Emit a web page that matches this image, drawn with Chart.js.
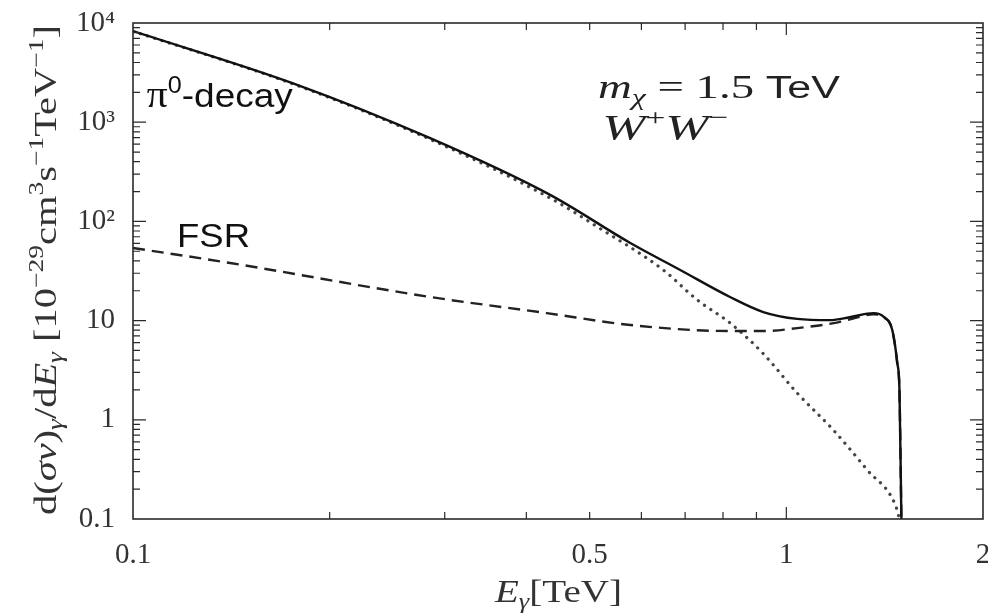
<!DOCTYPE html>
<html><head><meta charset="utf-8">
<script src="https://cdn.jsdelivr.net/npm/chart.js@4.4.1/dist/chart.umd.min.js"></script>
<style>html,body{margin:0;padding:0;background:#fff;}#wrap{width:988px;height:616px;}</style>
</head><body><div id="wrap"><canvas id="c" width="988" height="616"></canvas></div>
<script>
// ---- data ----
const totalE = [0.1, 0.1758, 0.285, 0.435, 0.577, 0.688, 0.82, 0.922, 1.039, 1.167, 1.25, 1.36, 1.41, 1.453, 1.479, 1.49, 1.5];
const totalY = [8300, 2466, 690, 185, 60.6, 32.4, 17.3, 12.2, 10.4, 10.1, 10.8, 11.9, 10.9, 8.0, 3.7, 2.0, 0.1];
const pi0E = [0.1, 0.1758, 0.285, 0.435, 0.514, 0.648, 0.731, 0.82, 0.92, 1.039, 1.18, 1.33, 1.469, 1.49];
const pi0Y = [8250, 2430, 672, 172, 88, 32.4, 16.1, 9.46, 4.71, 1.86, 0.79, 0.312, 0.138, 0.1];
const fsrE = [0.1, 0.1408, 0.285, 0.43, 0.577, 0.82, 0.92, 1.07, 1.2, 1.3, 1.36, 1.41, 1.453, 1.479, 1.49, 1.5];
const fsrY = [54, 38.1, 17.3, 11.9, 9.03, 7.85, 7.85, 8.6, 9.6, 11.0, 11.6, 10.8, 7.9, 3.6, 1.9, 0.1];
const xTickValues = [0.1, 0.5, 1, 2];
const xTickLabels = ['0.1', '0.5', '1', '2'];
const yTickValues = [0.1, 1, 10, 100, 1000, 10000];
const yTickLabels = ['0.1', '1', '10', '10²', '10³', '10⁴'];
const xMinorTicks = [0.2, 0.3, 0.4, 0.5, 0.6, 0.7, 0.8, 0.9];
const xMajorTicks = [1];
const annPi0 = {E: 0.105, v: 1422};
const annFsr = {E: 0.1168, v: 55};
const annMass = {E: 0.5148, v: 1754};
const annWW = {E: 0.5227, v: 661};

const pts = (xs, ys) => xs.map((x, i) => ({x: x, y: ys[i]}));
const SERIF = '"Liberation Serif", "Times New Roman", serif';
const SANS = '"Liberation Sans", Arial, sans-serif';

function fontFor(style, size) {
  if (style === 'i') return 'italic ' + size + 'px ' + SERIF;
  if (style === 's') return size + 'px ' + SANS;
  return size + 'px ' + SERIF;
}
function segSize(s, size) { return (s[2] ? size * 0.68 : size) * (s[3] || 1); }
function richWidth(ctx, segs, size) {
  let w = 0;
  for (const s of segs) {
    ctx.font = fontFor(s[1], segSize(s, size));
    w += ctx.measureText(s[0]).width;
  }
  return w;
}
function drawRich(ctx, segs, x, y, size, target) {
  const w = richWidth(ctx, segs, size);
  const sx = target ? target / w : 1;
  ctx.save();
  ctx.translate(x, y);
  ctx.scale(sx, 1);
  ctx.textBaseline = 'alphabetic';
  ctx.textAlign = 'left';
  let cx = 0;
  for (const s of segs) {
    const sz = segSize(s, size);
    ctx.font = fontFor(s[1], sz);
    let dy = 0;
    if (s[2] === 1) dy = -size * 0.42;
    if (s[2] === -1) dy = size * 0.2;
    ctx.fillText(s[0], cx, dy);
    cx += ctx.measureText(s[0]).width;
  }
  ctx.restore();
  return w * sx;
}

const framePlugin = {
  id: 'frame',
  afterDatasetsDraw(chart) {
    const ctx = chart.ctx;
    const xs = chart.scales.x, ys = chart.scales.y;
    const a = chart.chartArea;
    ctx.save();
    ctx.strokeStyle = '#2a2a2a';
    ctx.lineWidth = 1.6;
    ctx.strokeRect(a.left, a.top, a.right - a.left, a.bottom - a.top);
    ctx.lineWidth = 1.2;
    ctx.beginPath();
    for (let k = -1; k <= 3; k++) {
      for (let d = 1; d <= 9; d++) {
        if (d === 1 && k === -1) continue;
        const py = ys.getPixelForValue(d * Math.pow(10, k));
        const len = d === 1 ? 13 : 7;
        ctx.moveTo(a.left, py); ctx.lineTo(a.left + len, py);
        ctx.moveTo(a.right, py); ctx.lineTo(a.right - len, py);
      }
    }
    for (const v of xMinorTicks.concat(xMajorTicks)) {
      const px = xs.getPixelForValue(v);
      const len = xMajorTicks.includes(v) ? 12 : 7;
      ctx.moveTo(px, a.bottom); ctx.lineTo(px, a.bottom - len);
      ctx.moveTo(px, a.top); ctx.lineTo(px, a.top + len);
    }
    ctx.stroke();

    ctx.fillStyle = '#111';
    drawRich(ctx, [['π', 'r', 0, 1.12], ['0', 's', 1], ['-decay', 's', 0]], xs.getPixelForValue(annPi0.E), ys.getPixelForValue(annPi0.v), 34, 146);
    drawRich(ctx, [['FSR', 's', 0]], xs.getPixelForValue(annFsr.E), ys.getPixelForValue(annFsr.v), 34, 73);
    ctx.fillStyle = '#222';
    drawRich(ctx, [['m', 'i', 0], ['χ', 'i', -1], [' = 1.5 ', 'r', 0], ['TeV', 's', 0, 0.92]], xs.getPixelForValue(annMass.E), ys.getPixelForValue(annMass.v), 34, 242);
    drawRich(ctx, [['W', 'i', 0], ['+', 'r', 1], ['W', 'i', 0], ['−', 'r', 1]], xs.getPixelForValue(annWW.E), ys.getPixelForValue(annWW.v), 35, 126);

    ctx.fillStyle = '#333';
    drawRich(ctx, [['E', 'i', 0], ['γ', 'i', -1], ['[TeV]', 'r', 0]], 495, 602, 31, 127);

    const yt = [['d(', 'r', 0], ['σv', 'i', 0], [')', 'r', 0], ['γ', 'i', -1], ['/d', 'r', 0], ['E', 'i', 0], ['γ', 'i', -1],
      [' [10', 'r', 0], ['−29', 'r', 1], ['cm', 'r', 0], ['3', 'r', 1], ['s', 'r', 0], ['−1', 'r', 1], ['TeV', 'r', 0], ['−1', 'r', 1], [']', 'r', 0]];
    ctx.save();
    ctx.translate(56, 270);
    ctx.rotate(-Math.PI / 2);
    drawRich(ctx, yt, -245, 0, 31, 490);
    ctx.restore();
    ctx.restore();
  }
};

new Chart(document.getElementById('c'), {
  type: 'line',
  data: {
    datasets: [
      {label: 'total', data: pts(totalE, totalY), borderColor: '#111', borderWidth: 2.4, pointRadius: 0, cubicInterpolationMode: 'monotone', fill: false},
      {label: 'FSR', data: pts(fsrE, fsrY), borderColor: '#222', borderWidth: 2.4, borderDash: [12, 7], pointRadius: 0, cubicInterpolationMode: 'monotone', fill: false},
      {label: 'π0-decay', data: pts(pi0E, pi0Y), borderColor: '#444', borderWidth: 3.2, borderDash: [0.1, 7.5], borderCapStyle: 'round', pointRadius: 0, cubicInterpolationMode: 'monotone', fill: false}
    ]
  },
  options: {
    responsive: false,
    animation: false,
    devicePixelRatio: 1,
    layout: {padding: {top: 23, right: 5, left: 0, bottom: 0}},
    plugins: {legend: {display: false}, tooltip: {enabled: false}, title: {display: false}},
    scales: {
      x: {
        type: 'logarithmic', min: 0.1, max: 2, position: 'bottom',
        grid: {display: false, drawTicks: false}, border: {display: false},
        afterBuildTicks: s => { s.ticks = xTickValues.map(v => ({value: v})); },
        afterFit: s => { s.height = 97; s.paddingLeft = 0; s.paddingRight = 0; },
        ticks: {
          autoSkip: false, maxRotation: 0, padding: 19, color: '#333',
          font: {family: SERIF, size: 29},
          callback: (v) => { const i = xTickValues.indexOf(v); return i >= 0 ? xTickLabels[i] : ''; }
        }
      },
      y: {
        type: 'logarithmic', min: 0.1, max: 10000, position: 'left',
        grid: {display: false, drawTicks: false}, border: {display: false},
        afterBuildTicks: s => { s.ticks = yTickValues.map(v => ({value: v})); },
        afterFit: s => { s.width = 133; s.paddingTop = 0; s.paddingBottom = 0; },
        ticks: {
          autoSkip: false, padding: 18, color: '#333',
          font: {family: SERIF, size: 29},
          callback: (v) => { const i = yTickValues.indexOf(v); return i >= 0 ? yTickLabels[i] : ''; }
        }
      }
    }
  },
  plugins: [framePlugin]
});
</script>
</body></html>
